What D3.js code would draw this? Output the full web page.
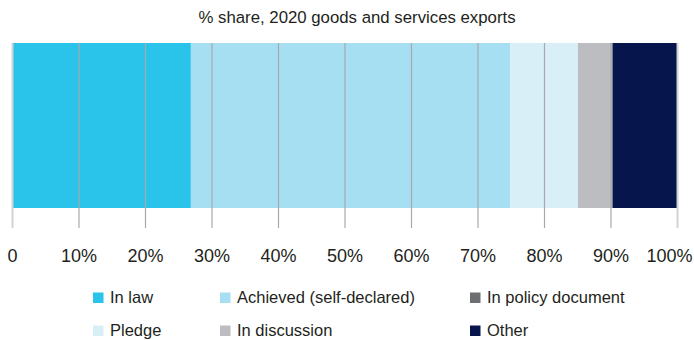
<!DOCTYPE html>
<html>
<head>
<meta charset="utf-8">
<script src="https://cdn.jsdelivr.net/npm/d3@7"></script>
<style>
  html, body { margin: 0; padding: 0; background: #fff; }
  svg { display: block; font-family: "Liberation Sans", Arial, Helvetica, sans-serif; }
</style>
</head>
<body>
<svg id="chart" width="694" height="340"></svg>
<script>
// ---- data ----
const categories = ["In law", "Achieved (self-declared)", "In policy document", "Pledge", "In discussion", "Other"];
const values = [26.9, 48.0, 0, 10.2, 5.2, 9.7];
const colors = ["#2ac4ea", "#a6def2", "#6d6e71", "#d8eff8", "#bcbdc0", "#06164d"];
const tickValues = [0, 10, 20, 30, 40, 50, 60, 70, 80, 90, 100];
const tickLabels = ["0", "10%", "20%", "30%", "40%", "50%", "60%", "70%", "80%", "90%", "100%"];
const title = "% share, 2020 goods and services exports";

// ---- layout ----
const svg = d3.select("#chart");
const x = d3.scaleLinear().domain([0, 100]).range([12, 677]);
const barTop = 43, barBottom = 208, tickBottom = 228;

// title
svg.append("text")
  .attr("x", 357).attr("y", 23)
  .attr("text-anchor", "middle")
  .attr("font-size", 16.8)
  .attr("fill", "#231f20")
  .text(title);

// stacked segments
let acc = 0;
const segs = values.map((v, i) => { const s = { start: acc, end: acc + v, color: colors[i] }; acc += v; return s; });
svg.append("g").selectAll("rect").data(segs.filter(d => d.end > d.start)).join("rect")
  .attr("x", d => x(d.start))
  .attr("y", barTop)
  .attr("width", d => x(d.end) - x(d.start))
  .attr("height", barBottom - barTop)
  .attr("fill", d => d.color);

// axis with gridlines through bar
const axis = d3.axisBottom(x)
  .tickValues(tickValues)
  .tickFormat((d, i) => tickLabels[i])
  .tickSize(tickBottom - barTop)
  .tickPadding(21);
const ag = svg.append("g").attr("transform", `translate(0,${barTop})`).call(axis);
ag.select(".domain").remove();
ag.selectAll(".tick line")
  .attr("stroke", (d, i) => (i === 0 || i === tickValues.length - 1) ? "#d1d3d4" : "#a7a9ac")
  .attr("stroke-width", (d, i) => (i === 0 || i === tickValues.length - 1) ? 2 : 1.2);
ag.selectAll(".tick text")
  .attr("font-size", 18)
  .attr("font-family", "\"Liberation Sans\", Arial, sans-serif")
  .attr("fill", "#231f20")
  .attr("dy", "0.71em");
ag.selectAll(".tick text").filter((d, i) => i === tickValues.length - 1)
  .attr("text-anchor", "end")
  .attr("x", 692 - x(100));

// legend (3 columns, 2 rows)
const colX = [93, 220, 470];
const rowY = [303, 336];
const sw = 10.5;
const leg = svg.append("g").selectAll("g").data(categories).join("g")
  .attr("transform", (d, i) => `translate(${colX[i % 3]},${rowY[Math.floor(i / 3)]})`);
leg.append("rect")
  .attr("x", 0).attr("y", -sw)
  .attr("width", sw).attr("height", sw)
  .attr("fill", (d, i) => colors[i]);
leg.append("text")
  .attr("x", 17).attr("y", 0)
  .attr("font-size", 16.5)
  .attr("fill", "#231f20")
  .text(d => d);
</script>
</body>
</html>
